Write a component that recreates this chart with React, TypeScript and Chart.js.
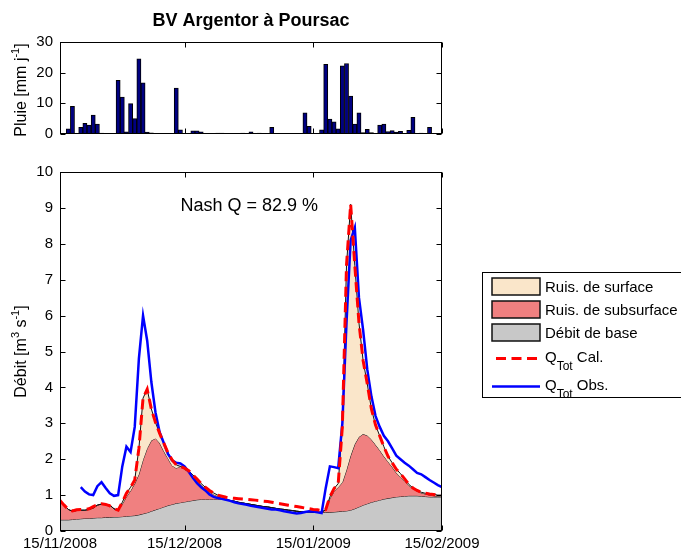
import { useEffect, useRef } from 'react';
import { Chart, registerables } from 'chart.js';

Chart.register(...registerables);

const FONT = "'Liberation Sans', Arial, Helvetica, sans-serif";

// ---- data ----
const titleText = 'BV Argentor à Poursac';
const rainAxisTitle = ['Pluie [mm j', '-1', ']'];
const flowAxisTitle = ['Débit [m', '3', ' s', '-1', ']'];
const nashText = 'Nash Q = 82.9 %';
const nashDay = 45.6;
const nashLevel = 9.06;

const tickDays = [0, 30, 61, 92];
const tickLabels = ['15/11/2008', '15/12/2008', '15/01/2009', '15/02/2009'];

const legendFillLabels = ['Ruis. de surface', 'Ruis. de subsurface', 'Débit de base'];
const legendLineLabels = ['Cal.', 'Obs.'];

// daily rain (mm/day), day 0 = 15/11/2008
const rain = [
  0, 0, 1.7, 9.0, 0, 2.2, 3.5, 2.9, 6.2, 3.2,
  0.3, 0.1, 0.2, 0, 17.5, 12.0, 0.7, 9.9, 5.0, 24.5,
  16.7, 0.6, 0.4, 0, 0.2, 0, 0.2, 0, 15.0, 1.4,
  0, 0, 1.0, 1.0, 0.7, 0, 0, 0, 0.3, 0.3,
  0, 0, 0, 0, 0.3, 0, 0.7, 0, 0.3, 0,
  0, 2.2, 0, 0, 0, 0, 0, 0, 0, 6.9,
  2.5, 0, 0, 1.4, 22.7, 4.9, 4.0, 1.7, 22.2, 23.0,
  12.4, 3.2, 6.9, 0.5, 1.5, 0.5, 0, 2.9, 3.2, 0.8,
  1.1, 0.6, 0.9, 0, 1.2, 5.4, 0, 0.3, 0, 2.2,
  0, 0, 0,
];

const baseFlow = [
  0.31, 0.31, 0.31, 0.32, 0.33, 0.34, 0.35, 0.35, 0.36, 0.37,
  0.37, 0.38, 0.38, 0.39, 0.39, 0.40, 0.41, 0.42, 0.43, 0.45,
  0.48, 0.51, 0.55, 0.59, 0.63, 0.67, 0.71, 0.74, 0.77, 0.79,
  0.81, 0.83, 0.85, 0.87, 0.88, 0.88, 0.88, 0.88, 0.88, 0.88,
  0.87, 0.85, 0.83, 0.80, 0.78, 0.76, 0.74, 0.72, 0.70, 0.68,
  0.67, 0.65, 0.63, 0.61, 0.60, 0.58, 0.57, 0.55, 0.54, 0.53,
  0.53, 0.52, 0.52, 0.52, 0.52, 0.52, 0.53, 0.54, 0.55, 0.56,
  0.58, 0.62, 0.67, 0.72, 0.76, 0.80, 0.83, 0.86, 0.89, 0.91,
  0.93, 0.95, 0.96, 0.97, 0.98, 0.98, 0.98, 0.97, 0.96, 0.95,
  0.95, 0.95, 0.95,
];

const subsurfaceTop = [
  0.85, 0.72, 0.60, 0.55, 0.57, 0.58, 0.58, 0.60, 0.64, 0.72,
  0.75, 0.74, 0.72, 0.62, 0.57, 0.75, 0.95, 1.12, 1.32, 1.58,
  1.98, 2.30, 2.52, 2.58, 2.45, 2.22, 2.02, 1.82, 1.75, 1.80,
  1.72, 1.64, 1.52, 1.40, 1.28, 1.17, 1.09, 1.02, 0.97, 0.92,
  0.87, 0.85, 0.83, 0.80, 0.78, 0.76, 0.74, 0.72, 0.70, 0.68,
  0.67, 0.65, 0.63, 0.61, 0.60, 0.58, 0.57, 0.55, 0.54, 0.53,
  0.53, 0.52, 0.52, 0.52, 0.60, 0.90, 1.10, 1.22, 1.35, 1.70,
  2.10, 2.42, 2.62, 2.70, 2.66, 2.55, 2.40, 2.25, 2.08, 1.93,
  1.78, 1.62, 1.50, 1.38, 1.27, 1.18, 1.11, 1.06, 1.03, 1.00,
  0.98, 0.97, 0.96,
];

const surfaceTop = [
  0.85, 0.72, 0.60, 0.55, 0.57, 0.58, 0.58, 0.60, 0.64, 0.72,
  0.75, 0.74, 0.72, 0.62, 0.57, 0.80, 1.05, 1.22, 1.42, 2.30,
  3.70, 3.95, 3.40, 3.02, 2.72, 2.45, 2.18, 1.98, 1.84, 1.80,
  1.75, 1.68, 1.56, 1.45, 1.32, 1.22, 1.13, 1.06, 1.00, 0.97,
  0.87, 0.85, 0.83, 0.80, 0.78, 0.76, 0.74, 0.72, 0.70, 0.68,
  0.67, 0.65, 0.63, 0.61, 0.60, 0.58, 0.57, 0.55, 0.54, 0.53,
  0.53, 0.52, 0.52, 0.52, 0.60, 0.95, 1.18, 1.32, 2.90, 7.40,
  9.10, 7.40, 5.80, 4.75, 4.10, 3.40, 2.95, 2.65, 2.35, 2.08,
  1.90, 1.72, 1.60, 1.45, 1.30, 1.20, 1.13, 1.08, 1.05, 1.03,
  1.02, 1.00, 1.00,
];

const qCal = [
  0.85, 0.72, 0.60, 0.56, 0.59, 0.60, 0.60, 0.62, 0.68, 0.73,
  0.76, 0.74, 0.70, 0.62, 0.58, 0.80, 1.05, 1.22, 1.42, 2.30,
  3.70, 3.95, 3.40, 3.02, 2.72, 2.45, 2.18, 1.98, 1.84, 1.80,
  1.75, 1.68, 1.56, 1.45, 1.32, 1.22, 1.13, 1.06, 1.00, 0.97,
  0.94, 0.92, 0.91, 0.90, 0.89, 0.88, 0.87, 0.86, 0.85, 0.83,
  0.82, 0.80, 0.78, 0.76, 0.74, 0.72, 0.70, 0.68, 0.66, 0.64,
  0.62, 0.60, 0.59, 0.57, 0.60, 0.95, 1.18, 1.32, 2.90, 7.40,
  9.10, 7.40, 5.80, 4.75, 4.10, 3.40, 2.95, 2.65, 2.35, 2.08,
  1.90, 1.72, 1.60, 1.45, 1.30, 1.20, 1.13, 1.08, 1.05, 1.03,
  1.02, 1.00, 1.00,
];

const qObs = [
  null, null, null, null, null, 1.22, 1.10, 1.02, 1.00, 1.25,
  1.36, 1.20, 1.05, 0.98, 1.00, 1.80, 2.35, 2.20, 2.90, 4.80,
  6.00, 5.30, 4.15, 3.30, 2.75, 2.45, 2.15, 1.97, 1.90, 1.88,
  1.80, 1.65, 1.48, 1.33, 1.22, 1.13, 1.02, 0.95, 0.92, 0.90,
  0.87, 0.84, 0.80, 0.77, 0.75, 0.73, 0.70, 0.68, 0.66, 0.64,
  0.62, 0.60, 0.60, 0.58, 0.55, 0.53, 0.51, 0.49, 0.50, 0.53,
  0.55, 0.54, 0.52, 0.50, 1.20, 1.80, 1.78, 1.75, 3.00, 5.80,
  8.10, 8.45, 6.50, 5.60, 4.50, 3.75, 3.20, 2.90, 2.65, 2.50,
  2.30, 2.10, 2.00, 1.90, 1.82, 1.72, 1.62, 1.58, 1.50, 1.42,
  1.35, 1.28, 1.22,
];

// ---- styles ----
const COL_SURF = 'rgb(250,230,202)';
const COL_SUB = 'rgb(240,128,128)';
const COL_BASE = 'rgb(200,200,200)';
const COL_CAL = 'rgb(255,0,0)';
const COL_OBS = 'rgb(0,0,255)';
const COL_RAIN = 'rgb(0,0,130)';

type Part = { t: string; shift?: number; size?: number };

function drawRich(ctx: CanvasRenderingContext2D, parts: Part[], x: number, y: number, size: number, align: 'left' | 'center', rotate: boolean) {
  ctx.save();
  ctx.translate(x, y);
  if (rotate) ctx.rotate(-Math.PI / 2);
  ctx.textBaseline = 'alphabetic';
  ctx.textAlign = 'left';
  let total = 0;
  const widths = parts.map((p) => {
    ctx.font = `${p.size ?? size}px ${FONT}`;
    const w = ctx.measureText(p.t).width;
    total += w;
    return w;
  });
  let cx = align === 'center' ? -total / 2 : 0;
  const base = rotate ? size * 0.35 : 0;
  parts.forEach((p, i) => {
    ctx.font = `${p.size ?? size}px ${FONT}`;
    ctx.fillText(p.t, cx, base + (p.shift ?? 0));
    cx += widths[i];
  });
  ctx.restore();
}

const framePlugin = {
  id: 'frame',
  afterDatasetsDraw(chart: any) {
    const { ctx, chartArea: a, scales } = chart;
    const xs = scales.x;
    const ys = scales.y;
    ctx.save();
    ctx.strokeStyle = '#000';
    ctx.lineWidth = 1;
    const L = Math.round(a.left) + 0.5;
    const R = Math.round(a.right) - 0.5;
    const T = Math.round(a.top) + 0.5;
    const B = Math.round(a.bottom) - 0.5;
    ctx.strokeRect(L, T, R - L, B - T);
    ctx.beginPath();
    ys.ticks.forEach((t: any) => {
      const py = Math.round(ys.getPixelForValue(t.value)) + 0.5;
      ctx.moveTo(L, py); ctx.lineTo(L + 5, py);
      ctx.moveTo(R, py); ctx.lineTo(R - 5, py);
    });
    tickDays.forEach((d) => {
      const px = Math.round(xs.getPixelForValue(d)) + 0.5;
      ctx.moveTo(px, B); ctx.lineTo(px, B - 5);
      ctx.moveTo(px, T); ctx.lineTo(px, T + 5);
    });
    ctx.stroke();
    ctx.restore();
  },
};

const topDecor = {
  id: 'topDecor',
  afterDraw(chart: any) {
    const { ctx, chartArea: a } = chart;
    ctx.save();
    ctx.fillStyle = '#000';
    ctx.font = `bold 18px ${FONT}`;
    ctx.textAlign = 'center';
    ctx.textBaseline = 'middle';
    ctx.fillText(titleText, (a.left + a.right) / 2, 21.5);
    drawRich(ctx, [
      { t: rainAxisTitle[0] },
      { t: rainAxisTitle[1], shift: -6.5, size: 11 },
      { t: rainAxisTitle[2] },
    ], 20, (a.top + a.bottom) / 2 + 2, 16, 'center', true);
    ctx.restore();
  },
};

const mainDecor = {
  id: 'mainDecor',
  afterDraw(chart: any) {
    const { ctx, chartArea: a, scales } = chart;
    ctx.save();
    ctx.fillStyle = '#000';
    // axis title
    drawRich(ctx, [
      { t: flowAxisTitle[0] },
      { t: flowAxisTitle[1], shift: -6.5, size: 11 },
      { t: flowAxisTitle[2] },
      { t: flowAxisTitle[3], shift: -6.5, size: 11 },
      { t: flowAxisTitle[4] },
    ], 20, (a.top + a.bottom) / 2, 16, 'center', true);
    // Nash annotation
    ctx.font = `18px ${FONT}`;
    ctx.textAlign = 'center';
    ctx.textBaseline = 'middle';
    ctx.fillText(nashText, scales.x.getPixelForValue(nashDay), scales.y.getPixelForValue(nashLevel));
    // legend
    ctx.fillStyle = '#fff';
    ctx.fillRect(482, 122, 220, 126);
    ctx.strokeStyle = '#000';
    ctx.lineWidth = 1;
    ctx.strokeRect(482.5, 122.5, 220, 125);
    const fills = [COL_SURF, COL_SUB, COL_BASE];
    const rows = [128, 151, 174];
    ctx.textAlign = 'left';
    ctx.textBaseline = 'middle';
    fills.forEach((c, i) => {
      ctx.fillStyle = c;
      ctx.fillRect(492, rows[i], 48, 17);
      ctx.lineWidth = 1.5;
      ctx.strokeStyle = '#111';
      ctx.strokeRect(492, rows[i], 48, 17);
      ctx.fillStyle = '#000';
      ctx.font = `15px ${FONT}`;
      ctx.fillText(legendFillLabels[i], 545, rows[i] + 9.5);
    });
    // Q cal line
    ctx.save();
    ctx.strokeStyle = COL_CAL;
    ctx.lineWidth = 3;
    ctx.setLineDash([10, 5.5]);
    ctx.beginPath();
    ctx.moveTo(496, 208.5);
    ctx.lineTo(540, 208.5);
    ctx.stroke();
    ctx.restore();
    // Q obs line
    ctx.strokeStyle = COL_OBS;
    ctx.lineWidth = 2.5;
    ctx.beginPath();
    ctx.moveTo(492, 236.5);
    ctx.lineTo(540, 236.5);
    ctx.stroke();
    ctx.fillStyle = '#000';
    drawRich(ctx, [{ t: 'Q' }, { t: 'Tot', shift: 8.5, size: 12 }, { t: ' ' + legendLineLabels[0] }], 545, 211.5, 15, 'left', false);
    drawRich(ctx, [{ t: 'Q' }, { t: 'Tot', shift: 8.5, size: 12 }, { t: ' ' + legendLineLabels[1] }], 545, 239.5, 15, 'left', false);
    ctx.restore();
  },
};

const toXY = (arr: (number | null)[]) => arr.map((v, i) => ({ x: i, y: v }));

export default function App() {
  const topRef = useRef<HTMLCanvasElement>(null);
  const mainRef = useRef<HTMLCanvasElement>(null);

  useEffect(() => {
    const tickFont = { family: FONT, size: 15 };
    const top = new Chart(topRef.current as HTMLCanvasElement, {
      type: 'bar',
      data: {
        datasets: [
          {
            data: toXY(rain) as any,
            backgroundColor: COL_RAIN,
            borderColor: '#000',
            borderWidth: (c: any) => (c.raw && c.raw.y > 0 ? 1 : 0),
            barPercentage: 1,
            categoryPercentage: 1,
          },
        ],
      },
      options: {
        responsive: false,
        animation: false,
        devicePixelRatio: 1,
        layout: { padding: { left: 0, right: 239, top: 42, bottom: 0 } },
        plugins: { legend: { display: false }, tooltip: { enabled: false }, title: { display: false } },
        scales: {
          x: {
            type: 'linear',
            min: 0,
            max: 92,
            offset: false,
            grid: { display: false, drawTicks: false, offset: false },
            border: { display: false },
            ticks: { display: false },
            afterFit: (s: any) => { s.height = 7; },
          },
          y: {
            min: 0,
            max: 30,
            ticks: { stepSize: 10, padding: 7, font: tickFont, color: '#000' },
            grid: { display: false, drawTicks: false },
            border: { display: false },
            afterFit: (s: any) => { s.width = 60; },
          },
        },
      } as any,
      plugins: [framePlugin, topDecor],
    });

    const main = new Chart(mainRef.current as HTMLCanvasElement, {
      type: 'line',
      data: {
        datasets: [
          {
            label: legendFillLabels[2],
            data: toXY(baseFlow) as any,
            borderColor: '#111',
            borderWidth: 1,
            backgroundColor: COL_BASE,
            fill: 'origin',
            pointRadius: 0,
            order: 5,
          },
          {
            label: legendFillLabels[1],
            data: toXY(subsurfaceTop) as any,
            borderColor: '#111',
            borderWidth: 1,
            backgroundColor: COL_SUB,
            fill: 0,
            pointRadius: 0,
            order: 4,
          },
          {
            label: legendFillLabels[0],
            data: toXY(surfaceTop) as any,
            borderColor: '#111',
            borderWidth: 1,
            backgroundColor: COL_SURF,
            fill: 1,
            pointRadius: 0,
            order: 3,
          },
          {
            label: 'QTot Obs.',
            data: toXY(qObs) as any,
            borderColor: COL_OBS,
            borderWidth: 2.5,
            fill: false,
            pointRadius: 0,
            order: 2,
          },
          {
            label: 'QTot Cal.',
            data: toXY(qCal) as any,
            borderColor: COL_CAL,
            borderWidth: 3,
            borderDash: [10, 5.5],
            fill: false,
            pointRadius: 0,
            order: 1,
          },
        ],
      },
      options: {
        responsive: false,
        animation: false,
        devicePixelRatio: 1,
        layout: { padding: { left: 0, right: 239, top: 22, bottom: 0 } },
        plugins: { legend: { display: false }, tooltip: { enabled: false }, title: { display: false } },
        scales: {
          x: {
            type: 'linear',
            min: 0,
            max: 92,
            grid: { display: false, drawTicks: false },
            border: { display: false },
            ticks: {
              autoSkip: false,
              maxRotation: 0,
              padding: 4,
              font: tickFont,
              color: '#000',
              callback: (v: any) => {
                const i = tickDays.indexOf(Number(v));
                return i >= 0 ? tickLabels[i] : '';
              },
            },
            afterBuildTicks: (s: any) => { s.ticks = tickDays.map((v) => ({ value: v })); },
            afterFit: (s: any) => { s.height = 21; },
          },
          y: {
            min: 0,
            max: 10,
            ticks: { stepSize: 1, padding: 7, font: tickFont, color: '#000' },
            grid: { display: false, drawTicks: false },
            border: { display: false },
            afterFit: (s: any) => { s.width = 60; },
          },
        },
      } as any,
      plugins: [framePlugin, mainDecor],
    });

    return () => {
      top.destroy();
      main.destroy();
    };
  }, []);

  return (
    <div style={{ position: 'absolute', left: 0, top: 0, width: 681, height: 552, background: '#fff', overflow: 'hidden' }}>
      <canvas ref={topRef} width={681} height={150} style={{ position: 'absolute', left: 0, top: 0, display: 'block' }} />
      <canvas ref={mainRef} width={681} height={402} style={{ position: 'absolute', left: 0, top: 150, display: 'block' }} />
    </div>
  );
}
